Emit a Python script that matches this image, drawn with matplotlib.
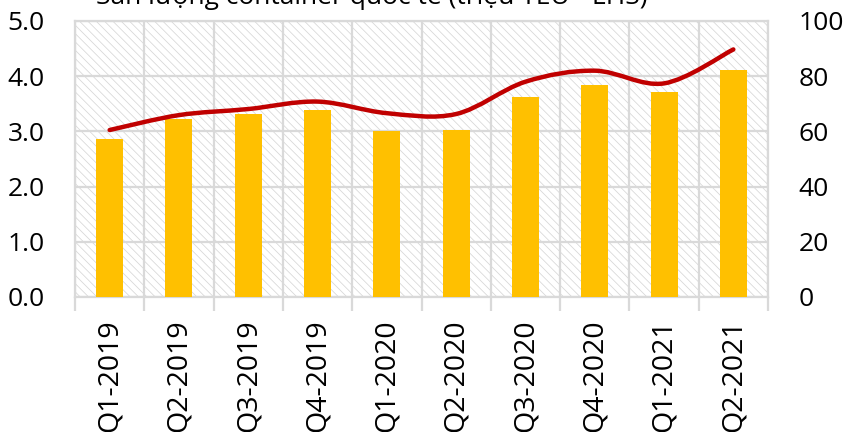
import matplotlib
matplotlib.use("Agg")
import matplotlib.pyplot as plt
from matplotlib.patches import Rectangle, PathPatch
from matplotlib.path import Path

# ------------------------------------------------------------------
# data
# ------------------------------------------------------------------
quarters = ["Q1-2019", "Q2-2019", "Q3-2019", "Q4-2019", "Q1-2020",
            "Q2-2020", "Q3-2020", "Q4-2020", "Q1-2021", "Q2-2021"]
teu_mil = [2.86, 3.22, 3.32, 3.39, 3.00, 3.02, 3.63, 3.84, 3.72, 4.11]   # bars, LHS
rhs_vals = [60.5, 65.9, 68.1, 70.8, 66.6, 66.3, 78.0, 82.0, 77.4, 89.7]  # line, RHS
left_ticks = [0, 1, 2, 3, 4, 5]
right_ticks = [0, 20, 40, 60, 80, 100]
title = "Sản lượng container quốc tế (triệu TEU - LHS)"

BAR_COL = "#FFC000"
LINE_COL = "#C00000"
GRID_COL = "#D9D9D9"

plt.rcParams["font.family"] = ["Open Sans", "DejaVu Sans"]
plt.rcParams["hatch.linewidth"] = 0.55

fig = plt.figure(figsize=(8.48, 4.32), dpi=100)
ax = fig.add_axes([75 / 848, 1 - 297 / 432, 693 / 848, 276 / 432])

# hatched plot background
bg = Rectangle((0, 0), 1, 1, transform=ax.transAxes, facecolor="white",
               edgecolor="#D6D6D6", hatch="\\\\\\\\", lw=0, zorder=0)
ax.add_patch(bg)

x = list(range(len(quarters)))
ax.bar(x, teu_mil, width=0.39, color=BAR_COL, zorder=3)

ax.set_xlim(-0.5, len(quarters) - 0.5)
ax.set_ylim(0, 5)
ax.set_yticks(left_ticks)
ax.set_yticklabels([f"{v:.1f}" for v in left_ticks])

# grid: horizontal at ticks, vertical at category boundaries
for v in left_ticks:
    ax.axhline(v, color=GRID_COL, lw=1.6, zorder=1)
for b in range(len(quarters) + 1):
    ax.axvline(b - 0.5, color=GRID_COL, lw=1.6, zorder=1)

ax.set_xticks([b - 0.5 for b in range(len(quarters) + 1)])
ax.set_xticklabels([])
ax.set_xticks(x, minor=True)
ax.set_xticklabels(quarters, minor=True, rotation=90, fontsize=20.5)
ax.tick_params(axis="x", which="major", length=10, width=1.6, color=GRID_COL)
ax.tick_params(axis="x", which="minor", length=0, pad=16)
ax.tick_params(axis="y", length=0, labelsize=19, pad=22)
for s in ax.spines.values():
    s.set_color(GRID_COL)
    s.set_linewidth(1.6)

# right axis + smoothed line (Excel style bezier)
ax2 = ax.twinx()
ax2.set_ylim(0, 100)
ax2.set_yticks(right_ticks)
ax2.tick_params(axis="y", length=0, labelsize=19, pad=22)
for s in ax2.spines.values():
    s.set_visible(False)

pts = list(zip(x, rhs_vals))
verts = [pts[0]]
codes = [Path.MOVETO]
n = len(pts)
for i in range(n - 1):
    p0 = pts[max(i - 1, 0)]
    p1 = pts[i]
    p2 = pts[i + 1]
    p3 = pts[min(i + 2, n - 1)]
    c1 = (p1[0] + (p2[0] - p0[0]) / 6, p1[1] + (p2[1] - p0[1]) / 6)
    c2 = (p2[0] - (p3[0] - p1[0]) / 6, p2[1] - (p3[1] - p1[1]) / 6)
    verts += [c1, c2, p2]
    codes += [Path.CURVE4] * 3
ax2.add_patch(PathPatch(Path(verts, codes), facecolor="none",
                        edgecolor=LINE_COL, lw=3.2, capstyle="round",
                        joinstyle="round", zorder=4))

# title sits mostly above the canvas, as in the reference
fig.text(372 / 848, 1 - 4 / 432, title, ha="center", va="baseline",
         fontsize=19)

fig.savefig("out.png", dpi=100)
